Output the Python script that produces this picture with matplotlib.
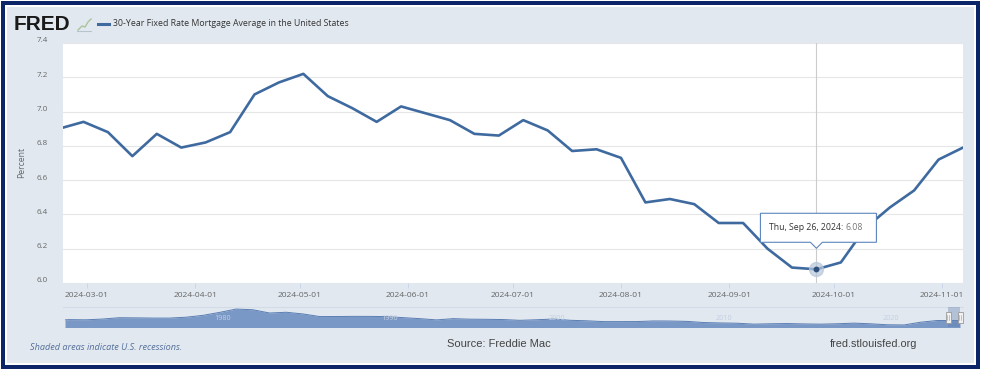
import numpy as np
import matplotlib.pyplot as plt
import matplotlib.dates as mdates
import matplotlib.transforms as mtransforms
from matplotlib.patches import Rectangle, Polygon
import pandas as pd

W, H = 983, 371

# weekly 30-year fixed rate (Freddie Mac PMMS)
weeks = ['2024-02-22', '2024-02-29', '2024-03-07', '2024-03-14', '2024-03-21',
         '2024-03-28', '2024-04-04', '2024-04-11', '2024-04-18', '2024-04-25',
         '2024-05-02', '2024-05-09', '2024-05-16', '2024-05-23', '2024-05-30',
         '2024-06-06', '2024-06-13', '2024-06-20', '2024-06-27', '2024-07-04',
         '2024-07-11', '2024-07-18', '2024-07-25', '2024-08-01', '2024-08-08',
         '2024-08-15', '2024-08-22', '2024-08-29', '2024-09-05', '2024-09-12',
         '2024-09-19', '2024-09-26', '2024-10-03', '2024-10-10', '2024-10-17',
         '2024-10-24', '2024-10-31', '2024-11-07']
rates = [6.90, 6.94, 6.88, 6.74, 6.87, 6.79, 6.82, 6.88, 7.10, 7.17,
         7.22, 7.09, 7.02, 6.94, 7.03, 6.99, 6.95, 6.87, 6.86, 6.95,
         6.89, 6.77, 6.78, 6.73, 6.47, 6.49, 6.46, 6.35, 6.35, 6.20,
         6.09, 6.08, 6.12, 6.32, 6.44, 6.54, 6.72, 6.79]

xtick_dates = ['2024-03-01', '2024-04-01', '2024-05-01', '2024-06-01',
               '2024-07-01', '2024-08-01', '2024-09-01', '2024-10-01', '2024-11-01']
yticks = [6.0, 6.2, 6.4, 6.6, 6.8, 7.0, 7.2, 7.4]

hover_date = '2024-09-26'
hover_value = 6.08

# navigator: long history (annual averages)
nav_years = [1971.25] + [y + 0.5 for y in range(1971, 2025)] + [2024.85]
nav_rates = [7.33, 7.54, 7.38, 8.04, 9.19, 9.05, 8.87, 8.85, 9.64, 11.20, 13.74,
             16.63, 16.04, 13.24, 13.88, 12.43, 10.19, 10.21, 10.34, 10.32, 10.13,
             9.25, 8.39, 7.31, 8.38, 7.93, 7.81, 7.60, 6.94, 7.44, 8.05,
             6.97, 6.54, 5.83, 5.84, 5.87, 6.41, 6.34, 6.03, 5.04, 4.69,
             4.45, 3.66, 3.98, 4.17, 3.85, 3.65, 3.99, 4.54, 3.94, 3.11,
             2.96, 5.34, 6.81, 6.72, 6.79]
nav_labels = [1980, 1990, 2000, 2010, 2020]

line_col = '#3e6a9f'
font = ['Open Sans', 'DejaVu Sans']


def rect(x0, y0, x1, y1):
    return [x0 / W, 1 - y1 / H, (x1 - x0) / W, (y1 - y0) / H]


fig = plt.figure(figsize=(W / 100, H / 100), dpi=100)

# frame and panel
bg = fig.add_axes([0, 0, 1, 1])
bg.set_xlim(0, W)
bg.set_ylim(H, 0)
bg.axis('off')
bg.add_patch(Rectangle((1, 1), 979, 368, fc='#0c2468', ec='none'))
bg.add_patch(Rectangle((5, 5), 971, 360, fc='white', ec='none'))
bg.add_patch(Rectangle((7, 7), 967, 356, fc='#e1e8f0', ec='none'))
bg.plot([63, 963], [307, 307], color='#d3dbe6', lw=0.8)

# header: logo + legend
fig.text(14 / W, 1 - 24 / H, 'FRED', fontsize=15, fontweight='bold',
         color='#1a1a1a', va='center', family='Liberation Sans')
bg.plot([78, 82, 85, 88, 91], [30, 26, 27, 22, 19], color='#a9c49a', lw=1.0)
bg.plot([77, 91], [31, 31], color='#b8c4cc', lw=0.8)
bg.plot([98, 109], [24, 24], color=line_col, lw=2.2)
fig.text(113 / W, 1 - 24 / H, '30-Year Fixed Rate Mortgage Average in the United States',
         fontsize=6.3, color='#333333', va='center', family=font)

# main chart
ax = fig.add_axes(rect(63, 43, 963, 283))
ax.set_facecolor('white')
dates = pd.to_datetime(weeks)
ax.plot(dates, rates, color=line_col, lw=1.9, solid_joinstyle='round',
        solid_capstyle='round', zorder=3)
ax.set_xlim(pd.Timestamp('2024-02-23 03:00'), pd.Timestamp('2024-11-07'))
ax.set_ylim(6.0, 7.4)
for s in ax.spines.values():
    s.set_visible(False)
ax.set_yticks(yticks)
ax.set_yticklabels([f'{v:.1f}' for v in yticks])
ax.grid(axis='y', color='#e6e6e6', lw=0.8)
ax.set_axisbelow(True)
ax.tick_params(axis='y', length=0, pad=11, labelsize=5.8, labelcolor='#666666')
ax.set_xticks(pd.to_datetime(xtick_dates))
ax.set_xticklabels(xtick_dates)
ax.tick_params(axis='x', length=3.5, width=0.7, color='#ccd6eb', pad=3,
               labelsize=6.1, labelcolor='#666666')
off = mtransforms.ScaledTranslation(0, 3 / 100, fig.dpi_scale_trans)
for lab in ax.get_yticklabels():
    lab.set_transform(lab.get_transform() + off)
    lab.set_family(font)
for lab in ax.get_xticklabels():
    lab.set_family(font)

fig.text(22 / W, 1 - 162 / H, 'Percent', rotation=90, fontsize=6.2, color='#666666',
         va='center', ha='center', family=font)

# hover state
hd = pd.Timestamp(hover_date)
ax.axvline(hd, color='#cccccc', lw=0.8, zorder=1)
ax.plot(hd, hover_value, 'o', ms=10, color='#b7c6dc', alpha=0.7, zorder=4, clip_on=False)
ax.plot(hd, hover_value, 'o', ms=3.2, color='#2d4f7c', zorder=5, clip_on=False)

# navigator
nav = fig.add_axes(rect(65, 307, 960, 327))
nav.patch.set_alpha(0)
nav.fill_between(nav_years, nav_rates, 0, color='#7a98c6', lw=0)
nav.plot(nav_years, nav_rates, color='#5a7db3', lw=0.7)
nav.set_xlim(1971.25, 2024.85)
nav.set_ylim(1.2, 18.4)
nav.axis('off')
for yr in nav_labels:
    nav.text(yr + 0.2, 8.3, str(yr), fontsize=5.2, color='#c3cfe1', va='center',
             family=font)
nav.axvspan(2024.14, 2024.85, color='#5d7aa8', alpha=0.35, lw=0)

# overlay: tooltip and navigator handles
top = fig.add_axes([0, 0, 1, 1])
top.set_xlim(0, W)
top.set_ylim(H, 0)
top.axis('off')
top.patch.set_alpha(0)

px, pyd = ax.transData.transform((mdates.date2num(hd), hover_value))
py = H - pyd
l, r, t, b = px - 56, px + 60, py - 56, py - 27
top.add_patch(Polygon([(l, t), (r, t), (r, b), (px + 6, b), (px, b + 6),
                       (px - 6, b), (l, b)], closed=True, fc='white',
                      ec='#5b86bd', lw=0.8, zorder=6))
t1 = top.text(l + 9, (t + b) / 2, hd.strftime('%a, %b %d, %Y') + ': ', fontsize=6.3,
              color='#333333', va='center', family=font, zorder=7)
top.annotate(f'{hover_value:.2f}', xy=(1, 0.5), xycoords=t1, fontsize=6.3,
             color='#777777', va='center', ha='left', family=font, zorder=7)

for yr in (2024.14, 2024.85):
    hx = nav.transData.transform((yr, 0))[0]
    top.add_patch(Rectangle((hx - 2.5, 312), 5, 11, fc='#f2f2f2', ec='#999999',
                            lw=0.6, zorder=6))
    top.plot([hx - 0.8, hx - 0.8], [315, 320], color='#999999', lw=0.4, zorder=7)
    top.plot([hx + 0.8, hx + 0.8], [315, 320], color='#999999', lw=0.4, zorder=7)

# footer
fig.text(30 / W, 1 - 348 / H, 'Shaded areas indicate U.S. recessions.', fontsize=6.6,
         style='italic', color='#55709a', va='center', family=font)
fig.text(447 / W, 1 - 344 / H, 'Source: Freddie Mac', fontsize=8, color='#444444',
         va='center', family='Liberation Sans')
fig.text(830 / W, 1 - 344 / H, 'fred.stlouisfed.org', fontsize=7.8, color='#444444',
         va='center', family='Liberation Sans')

fig.savefig('out.png', dpi=100)
